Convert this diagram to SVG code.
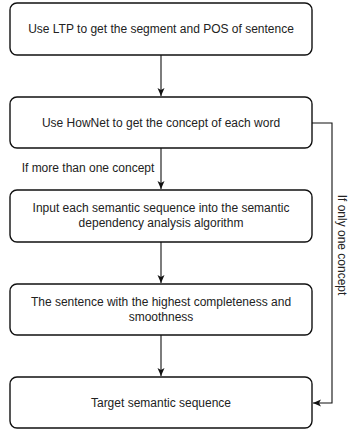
<svg xmlns="http://www.w3.org/2000/svg" width="350" height="431" viewBox="0 0 350 431">
<style>
.box{fill:#fff;stroke:#111;stroke-width:1.4}
.t{font-family:"Liberation Sans",Arial,sans-serif;font-size:12px;fill:#222;text-anchor:middle}
.c{fill:none;stroke:#111;stroke-width:1.1}
</style>
<defs>
<marker id="ah" markerWidth="10" markerHeight="10" refX="9" refY="5" orient="auto" markerUnits="userSpaceOnUse">
<path d="M1,1.5 L9,5 L1,8.5 L3,5 Z" fill="#111"/>
</marker>
</defs>
<rect width="350" height="431" fill="#fff"/>
<g id="n1"><rect class="box" x="10" y="3" width="302" height="52" rx="7"/><text class="t" x="161" y="33">Use LTP to get the segment and POS of sentence</text></g>
<g id="n2"><rect class="box" x="10" y="97" width="302" height="51" rx="7"/><text class="t" x="161" y="127">Use HowNet to get the concept of each word</text></g>
<g id="n3"><rect class="box" x="10" y="190" width="302" height="52" rx="7"/><text class="t" x="161" y="212">Input each semantic sequence into the semantic</text><text class="t" x="161" y="227">dependency analysis algorithm</text></g>
<g id="n4"><rect class="box" x="10" y="284" width="302" height="51" rx="7"/><text class="t" x="161" y="306">The sentence with the highest completeness and</text><text class="t" x="161" y="321">smoothness</text></g>
<g id="n5"><rect class="box" x="10" y="377" width="302" height="51" rx="7"/><text class="t" x="161" y="407">Target semantic sequence</text></g>
<g id="connectors">
<line class="c" x1="161" y1="55" x2="161" y2="96" marker-end="url(#ah)"/>
<line class="c" x1="161" y1="148" x2="161" y2="189" marker-end="url(#ah)"/>
<line class="c" x1="161" y1="242" x2="161" y2="283" marker-end="url(#ah)"/>
<line class="c" x1="161" y1="335" x2="161" y2="376" marker-end="url(#ah)"/>
<polyline class="c" points="312,123 332,123 332,403 313,403" marker-end="url(#ah)"/>
<text class="t" x="88" y="172">If more than one concept</text>
<text class="t" x="245" y="-338" transform="rotate(90)">If only one concept</text>
</g>
</svg>
